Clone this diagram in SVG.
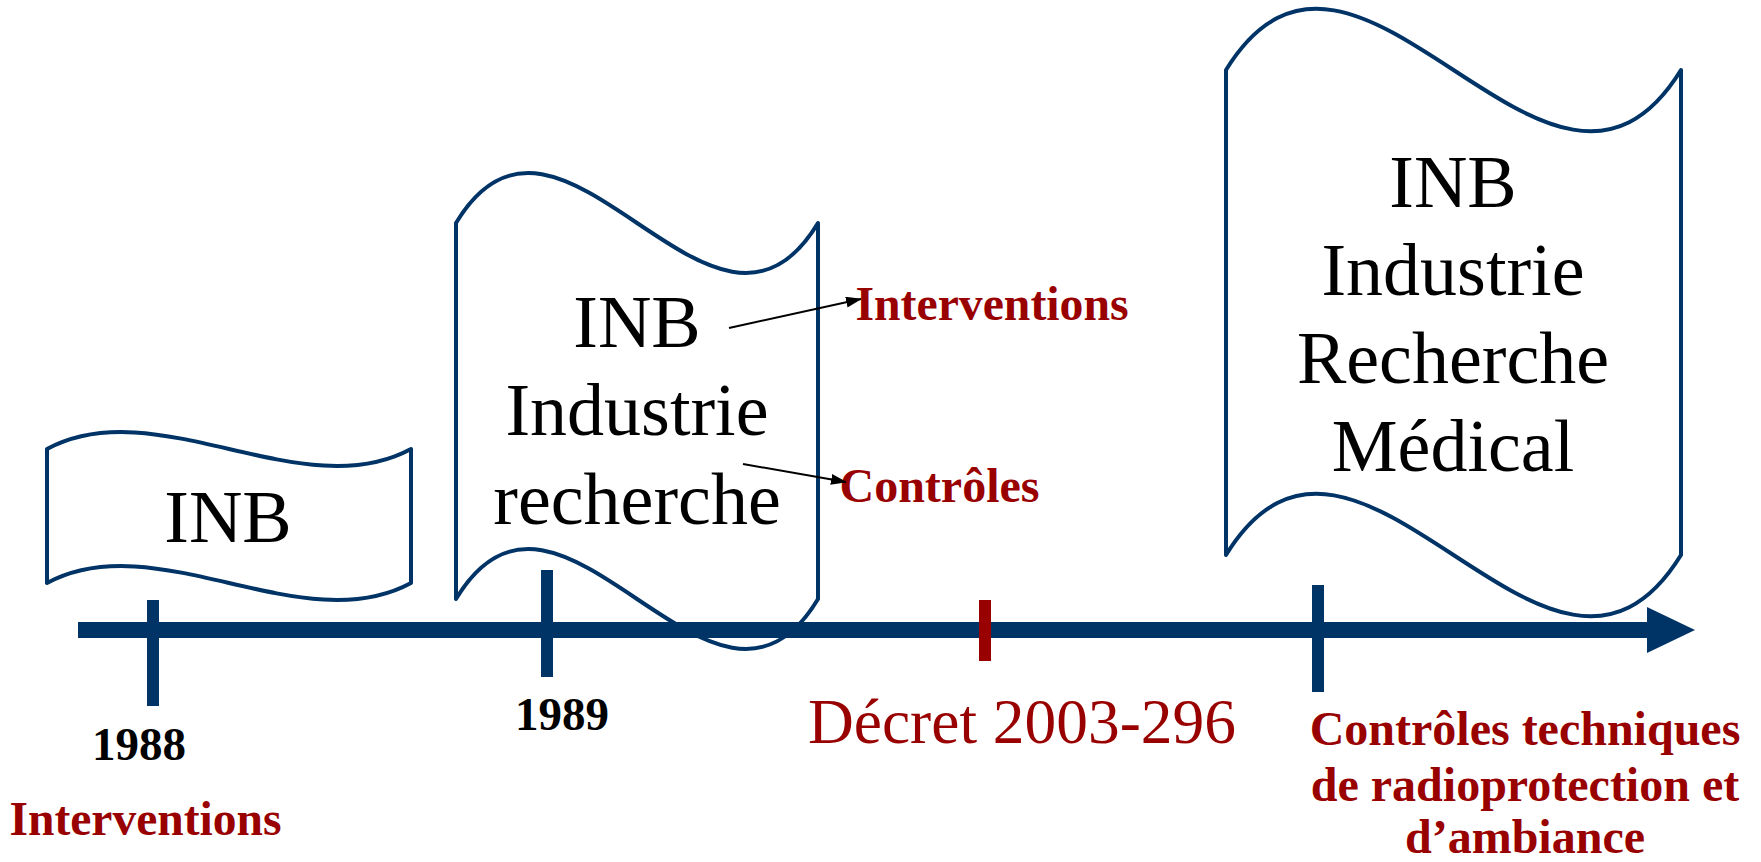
<svg xmlns="http://www.w3.org/2000/svg" width="1761" height="862" viewBox="0 0 1761 862">
  <style>
    .flag { fill: #ffffff; stroke: #003366; stroke-width: 4; stroke-linejoin: round; stroke-linecap: round; }
    .node { font-family: "Liberation Serif", "Times New Roman", serif; font-size: 74px; fill: #000000; text-anchor: middle; }
    .year { font-family: "Liberation Serif", "Times New Roman", serif; font-size: 47px; font-weight: bold; fill: #000000; text-anchor: middle; }
    .lbl { font-family: "Liberation Serif", "Times New Roman", serif; font-size: 48px; font-weight: bold; fill: #990000; }
    .decret { font-family: "Liberation Serif", "Times New Roman", serif; font-size: 63.5px; fill: #990000; }
    .tick { fill: #003366; }
    .conn { stroke: #000000; stroke-width: 2; fill: none; marker-end: url(#ah); }
  </style>
  <defs>
    <marker id="ah" markerWidth="16" markerHeight="11" refX="15" refY="5.5" orient="auto" markerUnits="userSpaceOnUse" viewBox="0 0 16 11">
      <path d="M0,0 L16,5.5 L0,11 Z" fill="#000000"/>
    </marker>
  </defs>
  <rect width="1761" height="862" fill="#ffffff"/>

  <g id="node-inb-1988">
    <path class="flag" d="M47,449 C156,390 302,508 411,449 L411,583 C302,642 156,524 47,583 Z"/>
    <text class="node" x="228" y="542">INB</text>
  </g>

  <g id="node-inb-1989">
    <path class="flag" d="M456,223 C560,50 714,396 818,223 L818,599 C714,772 560,426 456,599 Z"/>
    <text class="node" x="637" y="347">INB</text>
    <text class="node" x="637" y="435">Industrie</text>
    <text class="node" x="637" y="524">recherche</text>
  </g>

  <g id="node-inb-2003">
    <path class="flag" d="M1226,70 C1357,-142 1550,282 1681,70 L1681,555 C1550,767 1357,343 1226,555 Z"/>
    <text class="node" x="1453" y="207">INB</text>
    <text class="node" x="1453" y="295">Industrie</text>
    <text class="node" x="1453" y="383">Recherche</text>
    <text class="node" x="1453" y="471">Médical</text>
  </g>

  <g id="timeline">
    <rect x="78" y="622" width="1572" height="16" fill="#003366"/>
    <polygon points="1647,607 1695,630 1647,653" fill="#003366"/>
    <rect class="tick" x="147" y="600" width="12" height="106"/>
    <rect class="tick" x="541" y="570" width="12" height="107"/>
    <rect x="979" y="600" width="12" height="61" fill="#990000"/>
    <rect class="tick" x="1312" y="585" width="12" height="107"/>
  </g>

  <g id="label-1988">
    <text class="year" x="139" y="760">1988</text>
    <text class="lbl" x="9.5" y="835" textLength="272" lengthAdjust="spacingAndGlyphs">Interventions</text>
  </g>

  <g id="label-1989">
    <text class="year" x="562" y="730">1989</text>
  </g>

  <g id="label-interventions">
    <text class="lbl" x="855.5" y="320" textLength="273" lengthAdjust="spacingAndGlyphs">Interventions</text>
  </g>

  <g id="label-controles">
    <text class="lbl" x="839.5" y="502" textLength="200" lengthAdjust="spacingAndGlyphs">Contrôles</text>
  </g>

  <g id="label-decret">
    <text class="decret" x="808" y="743" textLength="428" lengthAdjust="spacingAndGlyphs">Décret 2003-296</text>
  </g>

  <g id="label-2003">
    <text class="lbl" x="1525" y="745" text-anchor="middle">Contrôles techniques</text>
    <text class="lbl" x="1525" y="801" text-anchor="middle">de radioprotection et</text>
    <text class="lbl" x="1525" y="853" text-anchor="middle">d’ambiance</text>
  </g>

  <g id="connectors">
    <line class="conn" x1="729" y1="328" x2="861" y2="299"/>
    <line class="conn" x1="743" y1="464" x2="846" y2="482"/>
  </g>
</svg>
